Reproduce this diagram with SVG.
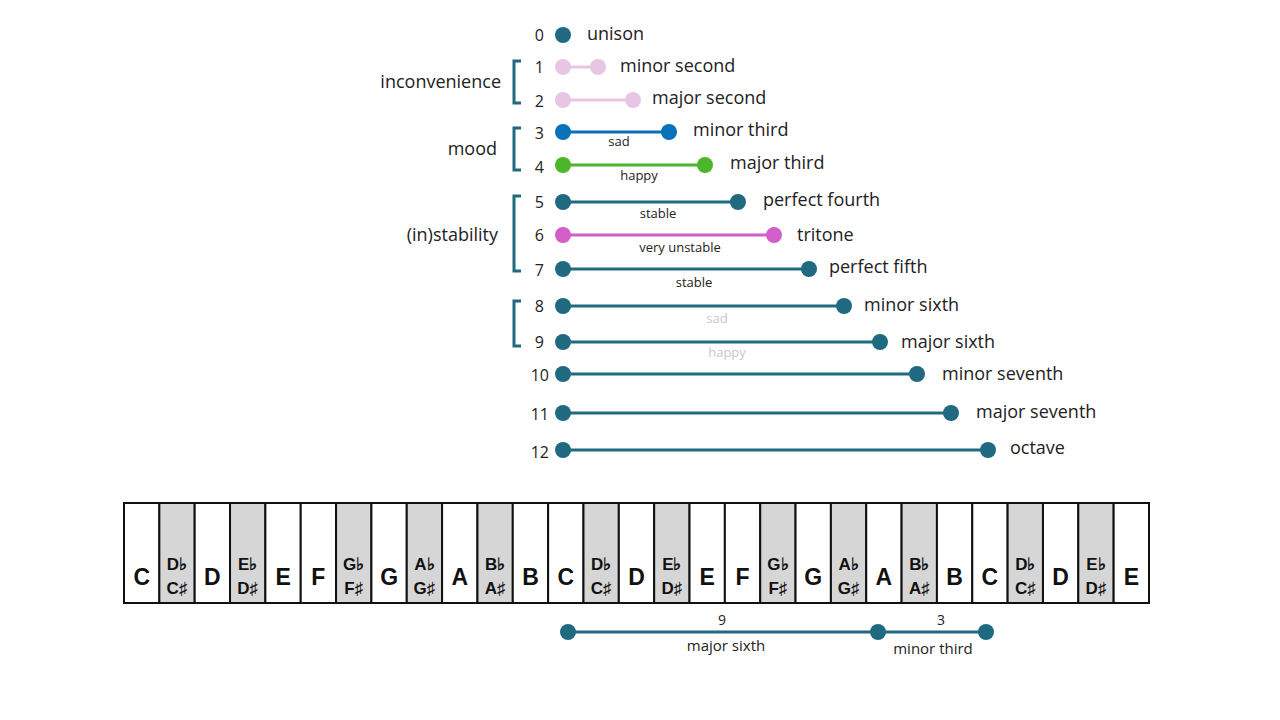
<svg xmlns="http://www.w3.org/2000/svg" width="1280" height="720" viewBox="0 0 1280 720">
<style>
text{font-family:"Open Sans","Liberation Sans",sans-serif;fill:#222}
.num{font-size:16px;text-anchor:end}
.nm{font-size:18px}
.sub{font-size:13px;text-anchor:middle}
.grp{font-size:18px;text-anchor:end}
.br{fill:none;stroke:#1f6a80;stroke-width:3}
.w{fill:#fff;stroke:#111;stroke-width:2}
.b{fill:#d6d6d6;stroke:#111;stroke-width:2}
.kl{font-family:"Liberation Sans",Arial,sans-serif;font-weight:bold;font-size:23px;text-anchor:middle;fill:#111}
.ks{font-family:"Liberation Sans",Arial,sans-serif;font-weight:bold;font-size:17px;text-anchor:middle;fill:#111}
</style>
<rect width="1280" height="720" fill="#fff"/>
<g id="connectors">
<g stroke-width="3" stroke-linecap="round">
<line x1="563" y1="67" x2="598" y2="67" stroke="#e8c6e3"/>
<line x1="563" y1="100" x2="633" y2="100" stroke="#e8c6e3"/>
<line x1="563" y1="132" x2="669" y2="132" stroke="#0a70b8"/>
<line x1="563" y1="165" x2="705" y2="165" stroke="#4cb52b"/>
<line x1="563" y1="202" x2="738" y2="202" stroke="#1f6a80"/>
<line x1="563" y1="235" x2="774" y2="235" stroke="#d25fc8"/>
<line x1="563" y1="269" x2="809" y2="269" stroke="#1f6a80"/>
<line x1="563" y1="306" x2="844" y2="306" stroke="#1f6a80"/>
<line x1="563" y1="342" x2="880" y2="342" stroke="#1f6a80"/>
<line x1="563" y1="374" x2="917" y2="374" stroke="#1f6a80"/>
<line x1="563" y1="413" x2="951" y2="413" stroke="#1f6a80"/>
<line x1="563" y1="450" x2="988" y2="450" stroke="#1f6a80"/>
<line x1="568" y1="632" x2="986" y2="632" stroke="#1f6a80"/>
</g>
</g>
<g id="dots">
<circle cx="563" cy="35" r="8" fill="#1f6a80"/>
<g fill="#e8c6e3"><circle cx="563" cy="67" r="8"/><circle cx="598" cy="67" r="8"/><circle cx="563" cy="100" r="8"/><circle cx="633" cy="100" r="8"/></g>
<g fill="#0a70b8"><circle cx="563" cy="132" r="8"/><circle cx="669" cy="132" r="8"/></g>
<g fill="#4cb52b"><circle cx="563" cy="165" r="8"/><circle cx="705" cy="165" r="8"/></g>
<g fill="#d25fc8"><circle cx="563" cy="235" r="8"/><circle cx="774" cy="235" r="8"/></g>
<g fill="#1f6a80">
<circle cx="563" cy="202" r="8"/><circle cx="738" cy="202" r="8"/>
<circle cx="563" cy="269" r="8"/><circle cx="809" cy="269" r="8"/>
<circle cx="563" cy="306" r="8"/><circle cx="844" cy="306" r="8"/>
<circle cx="563" cy="342" r="8"/><circle cx="880" cy="342" r="8"/>
<circle cx="563" cy="374" r="8"/><circle cx="917" cy="374" r="8"/>
<circle cx="563" cy="413" r="8"/><circle cx="951" cy="413" r="8"/>
<circle cx="563" cy="450" r="8"/><circle cx="988" cy="450" r="8"/>
<circle cx="568" cy="632" r="8"/><circle cx="878" cy="632" r="8"/><circle cx="986" cy="632" r="8"/>
</g>
</g>
<g id="numbers">
<text class="num" x="544" y="41">0</text><text class="num" x="544" y="73">1</text><text class="num" x="544" y="107">2</text>
<text class="num" x="544" y="139">3</text><text class="num" x="544" y="173">4</text><text class="num" x="544" y="208">5</text>
<text class="num" x="544" y="241">6</text><text class="num" x="544" y="276">7</text><text class="num" x="544" y="312">8</text>
<text class="num" x="544" y="348">9</text><text class="num" x="549" y="381">10</text><text class="num" x="549" y="420">11</text>
<text class="num" x="549" y="458">12</text>
</g>
<g id="names">
<text class="nm" x="587" y="40">unison</text>
<text class="nm" x="620" y="72">minor second</text>
<text class="nm" x="652" y="104">major second</text>
<text class="nm" x="693" y="136">minor third</text>
<text class="nm" x="730" y="169">major third</text>
<text class="nm" x="763" y="206">perfect fourth</text>
<text class="nm" x="797" y="241">tritone</text>
<text class="nm" x="829" y="273">perfect fifth</text>
<text class="nm" x="864" y="311">minor sixth</text>
<text class="nm" x="901" y="348">major sixth</text>
<text class="nm" x="942" y="380">minor seventh</text>
<text class="nm" x="976" y="418">major seventh</text>
<text class="nm" x="1010" y="454">octave</text>
</g>
<g id="sublabels">
<text class="sub" x="619" y="146">sad</text>
<text class="sub" x="639" y="180">happy</text>
<text class="sub" x="658" y="218">stable</text>
<text class="sub" x="680" y="252">very unstable</text>
<text class="sub" x="694" y="287">stable</text>
<text class="sub" x="717" y="323" style="fill:#c8c8c8">sad</text>
<text class="sub" x="727" y="357" style="fill:#c8c8c8">happy</text>
</g>
<g id="groups">
<path class="br" d="M521,61 H514 V103 H521"/>
<path class="br" d="M521,128 H514 V170 H521"/>
<path class="br" d="M521,196 H514 V271 H521"/>
<path class="br" d="M521,301 H514 V346 H521"/>
<text class="grp" x="501" y="88">inconvenience</text>
<text class="grp" x="497" y="155">mood</text>
<text class="grp" x="498" y="241">(in)stability</text>
</g>
<g id="keyboard">
<rect x="124" y="503" width="1025" height="100" fill="#fff" stroke="#111" stroke-width="2"/>
<g>
<rect class="w" x="124.00" y="503" width="35.34" height="100"/>
<rect class="b" x="159.34" y="503" width="35.34" height="100"/>
<rect class="w" x="194.69" y="503" width="35.34" height="100"/>
<rect class="b" x="230.03" y="503" width="35.34" height="100"/>
<rect class="w" x="265.38" y="503" width="35.34" height="100"/>
<rect class="w" x="300.72" y="503" width="35.34" height="100"/>
<rect class="b" x="336.07" y="503" width="35.34" height="100"/>
<rect class="w" x="371.41" y="503" width="35.34" height="100"/>
<rect class="b" x="406.76" y="503" width="35.34" height="100"/>
<rect class="w" x="442.10" y="503" width="35.34" height="100"/>
<rect class="b" x="477.45" y="503" width="35.34" height="100"/>
<rect class="w" x="512.79" y="503" width="35.34" height="100"/>
<rect class="w" x="548.14" y="503" width="35.34" height="100"/>
<rect class="b" x="583.48" y="503" width="35.34" height="100"/>
<rect class="w" x="618.83" y="503" width="35.34" height="100"/>
<rect class="b" x="654.17" y="503" width="35.34" height="100"/>
<rect class="w" x="689.52" y="503" width="35.34" height="100"/>
<rect class="w" x="724.86" y="503" width="35.34" height="100"/>
<rect class="b" x="760.21" y="503" width="35.34" height="100"/>
<rect class="w" x="795.55" y="503" width="35.34" height="100"/>
<rect class="b" x="830.90" y="503" width="35.34" height="100"/>
<rect class="w" x="866.24" y="503" width="35.34" height="100"/>
<rect class="b" x="901.59" y="503" width="35.34" height="100"/>
<rect class="w" x="936.93" y="503" width="35.34" height="100"/>
<rect class="w" x="972.28" y="503" width="35.34" height="100"/>
<rect class="b" x="1007.62" y="503" width="35.34" height="100"/>
<rect class="w" x="1042.97" y="503" width="35.34" height="100"/>
<rect class="b" x="1078.31" y="503" width="35.34" height="100"/>
<rect class="w" x="1113.66" y="503" width="35.34" height="100"/>
</g>
<g>
<text class="kl" x="141.7" y="585">C</text>
<text class="kl" x="212.4" y="585">D</text>
<text class="kl" x="283.1" y="585">E</text>
<text class="kl" x="318.4" y="585">F</text>
<text class="kl" x="389.1" y="585">G</text>
<text class="kl" x="459.8" y="585">A</text>
<text class="kl" x="530.5" y="585">B</text>
<text class="kl" x="565.8" y="585">C</text>
<text class="kl" x="636.5" y="585">D</text>
<text class="kl" x="707.2" y="585">E</text>
<text class="kl" x="742.5" y="585">F</text>
<text class="kl" x="813.2" y="585">G</text>
<text class="kl" x="883.9" y="585">A</text>
<text class="kl" x="954.6" y="585">B</text>
<text class="kl" x="989.9" y="585">C</text>
<text class="kl" x="1060.6" y="585">D</text>
<text class="kl" x="1131.3" y="585">E</text>
</g>
<g>
<text class="ks" x="177" y="570">D♭</text><text class="ks" x="177" y="594">C♯</text>
<text class="ks" x="247.7" y="570">E♭</text><text class="ks" x="247.7" y="594">D♯</text>
<text class="ks" x="353.7" y="570">G♭</text><text class="ks" x="353.7" y="594">F♯</text>
<text class="ks" x="424.4" y="570">A♭</text><text class="ks" x="424.4" y="594">G♯</text>
<text class="ks" x="495.1" y="570">B♭</text><text class="ks" x="495.1" y="594">A♯</text>
<text class="ks" x="601.2" y="570">D♭</text><text class="ks" x="601.2" y="594">C♯</text>
<text class="ks" x="671.8" y="570">E♭</text><text class="ks" x="671.8" y="594">D♯</text>
<text class="ks" x="777.9" y="570">G♭</text><text class="ks" x="777.9" y="594">F♯</text>
<text class="ks" x="848.6" y="570">A♭</text><text class="ks" x="848.6" y="594">G♯</text>
<text class="ks" x="919.3" y="570">B♭</text><text class="ks" x="919.3" y="594">A♯</text>
<text class="ks" x="1025.3" y="570">D♭</text><text class="ks" x="1025.3" y="594">C♯</text>
<text class="ks" x="1096" y="570">E♭</text><text class="ks" x="1096" y="594">D♯</text>
</g>
</g>
<g id="bottom-labels">
<text class="sub" x="722" y="625" style="font-size:14px">9</text>
<text class="sub" x="726" y="651" style="font-size:15px">major sixth</text>
<text class="sub" x="941" y="625" style="font-size:14px">3</text>
<text class="sub" x="933" y="654" style="font-size:15px">minor third</text>
</g>
</svg>
